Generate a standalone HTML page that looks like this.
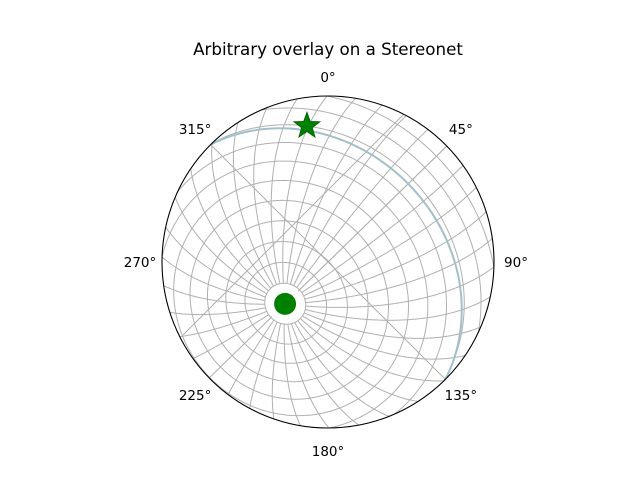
<!DOCTYPE html>
<html><head><meta charset="utf-8"><style>
html,body{margin:0;padding:0;background:#fff;}
svg{display:block;font-family:"DejaVu Sans","Liberation Sans",sans-serif;}
</style></head><body>
<svg id="chart" width="640" height="480" viewBox="0 0 640 480">
<rect width="640" height="480" fill="#fff"/>
<text x="328" y="55" font-size="16.7" text-anchor="middle" fill="#000">Arbitrary overlay on a Stereonet</text>
<defs><clipPath id="clip"><circle cx="328" cy="262" r="166"/></clipPath></defs>
<g id="grid" clip-path="url(#clip)"></g>
<g id="marks" clip-path="url(#clip)"></g>
<circle cx="328" cy="262" r="166" fill="none" stroke="#000" stroke-width="1.1"/>
<g id="labels" font-size="13.5" fill="#000"></g>
</svg>
<script>
var azLabels = ["0°","45°","90°","135°","180°","225°","270°","315°"];
var labelAzimuths = [0,45,90,135,180,225,270,315];
var poleTrend = [225.7];
var polePlunge = [60.4];
var ringAngles = [10,20,30,40,50,60,70,80,90,100,110,120,130,140,150,160,170];
var meridianAz = [0,10,20,30,40,50,60,70,80,90,100,110,120,130,140,150,160,170,180,190,200,210,220,230,240,250,260,270,280,290,300,310,320,330,340,350];
var planeStrike = [315];
var planeDip = [33];
var starTrend = [351.2];
var starPlunge = [18.2];
var chordStrikes = [315];

var NS="http://www.w3.org/2000/svg", CX=328, CY=262, R=166, D=Math.PI/180;
function vecTP(t,p){return [Math.cos(p*D)*Math.cos(t*D),Math.cos(p*D)*Math.sin(t*D),Math.sin(p*D)];}
function proj(v){var d=Math.max(-1,Math.min(1,v[2]));var th=Math.acos(d);var az=Math.atan2(v[1],v[0]);var rho=Math.SQRT2*Math.sin(th/2);return [CX+R*rho*Math.sin(az),CY-R*rho*Math.cos(az)];}
function cross(a,b){return [a[1]*b[2]-a[2]*b[1],a[2]*b[0]-a[0]*b[2],a[0]*b[1]-a[1]*b[0]];}
function norm(a){var l=Math.hypot(a[0],a[1],a[2]);return [a[0]/l,a[1]/l,a[2]/l];}
function pathFrom(pts){return pts.map(function(p,i){return (i?"L":"M")+p[0].toFixed(2)+","+p[1].toFixed(2);}).join("");}
function addPath(g,d,stroke,w,name){var el=document.createElementNS(NS,"path");el.setAttribute("d",d);el.setAttribute("fill","none");el.setAttribute("stroke",stroke);el.setAttribute("stroke-width",w);


g.appendChild(el);return el;}
var P=vecTP(poleTrend[0],polePlunge[0]);
var U=norm(cross(P,[0,0,1]));var V=norm(cross(P,U));
function pt(a,b){var ca=Math.cos(a*D),sa=Math.sin(a*D),cb=Math.cos(b*D),sb=Math.sin(b*D);return proj([ca*P[0]+sa*(cb*U[0]+sb*V[0]),ca*P[1]+sa*(cb*U[1]+sb*V[1]),ca*P[2]+sa*(cb*U[2]+sb*V[2])]);}
var grid=document.getElementById("grid");
ringAngles.forEach(function(a){var pts=[];for(var b=0;b<=360;b+=2)pts.push(pt(a,b));addPath(grid,pathFrom(pts),"#b0b0b0",1,"grid-ring-"+a);});
meridianAz.forEach(function(b){var pts=[];for(var a=10;a<=170;a+=1)pts.push(pt(a,b));addPath(grid,pathFrom(pts),"#b0b0b0",1,"grid-meridian-"+b);});
chordStrikes.forEach(function(s){var a=proj(vecTP(s,0)),b=proj(vecTP(s+180,0));addPath(grid,pathFrom([a,b]),"#b0b0b0",1,"vertical-plane-"+s);});
addPath(grid,pathFrom([[183,335],[405,113]]),"#b0b0b0",1,"diagonal-line-ne");
var pp=proj(P);
var hole=document.createElementNS(NS,"circle");hole.setAttribute("cx",pp[0]);hole.setAttribute("cy",pp[1]);hole.setAttribute("r",18);hole.setAttribute("fill","#fff");


grid.appendChild(hole);
var marks=document.getElementById("marks");
var dd=planeStrike[0]+90;
var s1=vecTP(planeStrike[0],0), dv=vecTP(dd,planeDip[0]);var pts=[];
for(var t=0;t<=180;t+=1){var c=Math.cos(t*D),s=Math.sin(t*D);pts.push(proj([c*s1[0]+s*dv[0],c*s1[1]+s*dv[1],c*s1[2]+s*dv[2]]));}
addPath(marks,pathFrom(pts),"#a3bfc9",2,"plane-great-circle");
var dot=document.createElementNS(NS,"circle");dot.setAttribute("cx",pp[0]);dot.setAttribute("cy",pp[1]);dot.setAttribute("r",11);dot.setAttribute("fill","#008000");


marks.appendChild(dot);
var sp=proj(vecTP(starTrend[0],starPlunge[0]));var sd="";
for(var i=0;i<10;i++){var r=i%2?5.5:13.5;var ang=(i*36-90)*D;sd+=(i?"L":"M")+(sp[0]+r*Math.cos(ang)).toFixed(2)+","+(sp[1]+r*Math.sin(ang)).toFixed(2);}
var star=addPath(marks,sd+"Z","#006400",1,"star-marker");star.setAttribute("fill","#008000");
var lg=document.getElementById("labels");
labelAzimuths.forEach(function(a,i){var rr=R+22;var x=CX+rr*Math.sin(a*D),y=CY-rr*Math.cos(a*D);
if(a==0)y+=3;if(a==180)y+=1;
var t=document.createElementNS(NS,"text");t.setAttribute("x",x.toFixed(1));t.setAttribute("y",(y+5).toFixed(1));t.setAttribute("text-anchor","middle");t.textContent=azLabels[i];


lg.appendChild(t);});
</script>
</body></html>
